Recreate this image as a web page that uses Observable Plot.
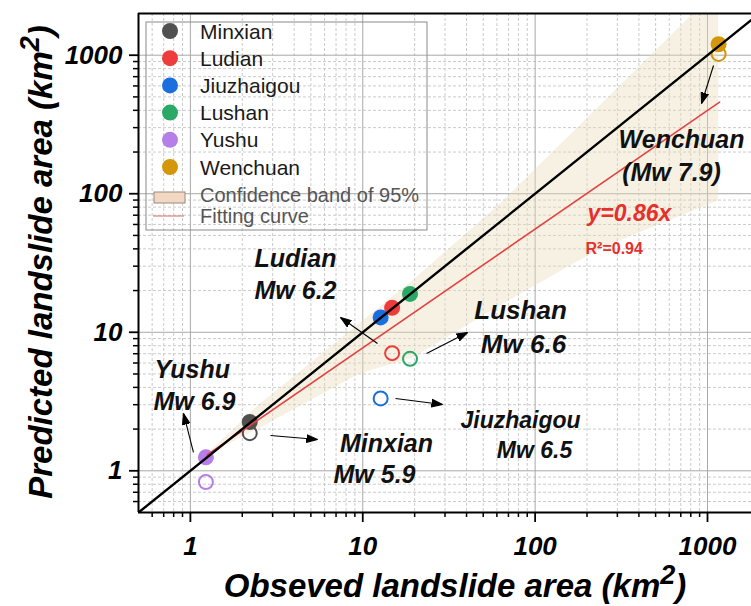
<!DOCTYPE html>
<html><head><meta charset="utf-8">
<script src="https://cdn.jsdelivr.net/npm/d3@7"></script>
<script src="https://cdn.jsdelivr.net/npm/@observablehq/plot@0.6"></script>
<style>
html,body{margin:0;padding:0;background:#fff;overflow:hidden;}
</style></head><body><div id="chart"></div>
<script>
// ---------- data ----------
const events = ["Minxian","Ludian","Jiuzhaigou","Lushan","Yushu","Wenchuan"];
const colors = ["#505050","#ee3b3b","#1a6ee0","#2aa866","#b57ee8","#d4960a"];
const observedArea  = [2.21, 14.8, 12.7, 18.8, 1.23, 1160];
const filledArea    = [2.25, 15.0, 12.8, 18.9, 1.25, 1200];
const predictedArea = [1.87, 7.07, 3.33, 6.43, 0.83, 1021];

const lineX = [0.5, 2000];
const lineY = [0.5, 2000];
const fitX = [1.25, 1175];
const fitY = [1.30, 458];
const bandX    = [1.25, 2.4, 9.6, 19.5, 62.6, 240, 1160];
const bandLow  = [1.30, 1.95, 5.0, 6.5, 15.5, 40, 89];
const bandHigh = [1.30, 2.85, 11.5, 23.5, 84, 435, 3000];

const majorTicks = [1, 10, 100, 1000];
const tickLabels = ["1", "10", "100", "1000"];

const noteText   = ["Ludian","Mw 6.2","Lushan","Mw 6.6","Jiuzhaigou","Mw 6.5","Minxian","Mw 5.9","Yushu","Mw 6.9","Wenchuan","(Mw 7.9)","y=0.86x","R²=0.94"];
const noteX      = [2.355, 2.355, 82.3, 85.6, 82.3, 99.2, 13.73, 11.70, 0.619, 0.611, 707.3, 618.5, 201.4, 196.1];
const noteY      = [29.35, 17.25, 12.57, 7.03, 2.02, 1.247, 1.356, 0.823, 4.64, 2.725, 212.1, 124.6, 63.05, 37.03];
const noteAnchor = ["start","start","middle","middle","middle","middle","middle","middle","start","start","middle","middle","start","start"];
const noteSize   = [25, 25, 26, 26, 23, 23, 25, 25, 25, 25, 25, 25, 23, 16];
const noteColor  = ["#111","#111","#111","#111","#111","#111","#111","#111","#111","#111","#111","#111","#e5302b","#e5302b"];
const noteItalic = [true,true,true,true,true,true,true,true,true,true,true,true,true,false];

// arrows: Ludian, Lushan, Jiuzhaigou, Minxian, Yushu, Wenchuan
const arrowX1 = [12.18, 23.44, 15.49, 2.916, 1.042, 1084];
const arrowY1 = [8.30, 7.03, 3.326, 1.798, 1.356, 842.7];
const arrowX2 = [7.43, 40.53, 29.02, 5.464, 0.912, 923.6];
const arrowY2 = [12.79, 9.96, 3.01, 1.682, 2.593, 448];

const legendLabels = [...events, "Confidence band of 95%", "Fitting curve"];
const xTitle = ["Obseved landslide area (km", "2", ")"];
const yTitle = ["Predicted landslide area (km", "2", ")"];

// ---------- derived tables ----------
const FONT = "'Liberation Sans', Arial, sans-serif";
const pts = events.map((e, i) => ({e, c: colors[i], x: observedArea[i], yf: filledArea[i], yp: predictedArea[i]}));
const band = bandX.map((x, i) => ({x, lo: bandLow[i], hi: bandHigh[i]}));
const arrows = arrowX1.map((x1, i) => ({x1, y1: arrowY1[i], x2: arrowX2[i], y2: arrowY2[i]}));
const notes = noteText.map((t, i) => ({t, x: noteX[i], y: noteY[i], a: noteAnchor[i], s: noteSize[i], c: noteColor[i], it: noteItalic[i]}));

const xDomain = [0.5, 1800], yDomain = [0.5, 2000];
const minorOf = (dom) => d3.scaleLog().domain(dom).ticks().filter(v => !majorTicks.includes(v) && v > dom[0] && v < dom[1]);
const xMinor = minorOf(xDomain), yMinor = minorOf(yDomain);
const fmt = d => tickLabels[majorTicks.indexOf(d)];

function filledArrow(color) {
  const ns = "http://www.w3.org/2000/svg";
  const m = document.createElementNS(ns, "marker");
  m.setAttribute("viewBox", "-11 -5 12 10");
  m.setAttribute("markerWidth", 12);
  m.setAttribute("markerHeight", 10);
  m.setAttribute("markerUnits", "userSpaceOnUse");
  m.setAttribute("orient", "auto");
  const p = document.createElementNS(ns, "path");
  p.setAttribute("d", "M-11,-3.8L0,0L-11,3.8Z");
  p.setAttribute("fill", "black");
  m.appendChild(p);
  return m;
}

function build(marker) {
  return Plot.plot({
    width: 751, height: 606,
    marginLeft: 138, marginRight: 0, marginTop: 13, marginBottom: 94,
    style: {fontFamily: FONT, background: "white", overflow: "hidden"},
    x: {type: "log", domain: xDomain, label: null},
    y: {type: "log", domain: yDomain, label: null},
    marks: [
      Plot.gridX(xMinor, {stroke: "#cbcbcb", strokeOpacity: 1, strokeDasharray: "3,2"}),
      Plot.gridY(yMinor, {stroke: "#cbcbcb", strokeOpacity: 1, strokeDasharray: "3,2"}),
      Plot.gridX(majorTicks, {stroke: "#a8a8a8", strokeOpacity: 1}),
      Plot.gridY(majorTicks, {stroke: "#a8a8a8", strokeOpacity: 1}),
      Plot.areaY(band, {x: "x", y1: "lo", y2: "hi", fill: "#e8dcb8", fillOpacity: 0.4, clip: true}),
      Plot.axisX(xMinor, {tickSize: 5, tickFormat: () => "", stroke: "black", strokeWidth: 1.5, label: null}),
      Plot.axisY(yMinor, {tickSize: 5, tickFormat: () => "", stroke: "black", strokeWidth: 1.5, label: null}),
      Plot.axisX(majorTicks, {tickSize: 10, tickPadding: 14, tickFormat: fmt, stroke: "black", strokeWidth: 1.8,
        fontSize: 26, fontWeight: "bold", fontStyle: "italic", fill: "black", label: null}),
      Plot.axisY(majorTicks, {tickSize: 9, tickPadding: 7, tickFormat: fmt, stroke: "black", strokeWidth: 1.8,
        fontSize: 26, fontWeight: "bold", fontStyle: "italic", fill: "black", label: null}),
      Plot.ruleX([xDomain[0]], {stroke: "black", strokeWidth: 2}),
      Plot.ruleY([yDomain[0]], {stroke: "black", strokeWidth: 2}),
      Plot.ruleY([yDomain[1]], {stroke: "black", strokeWidth: 2}),
      Plot.dot(pts, {x: "x", y: "yp", r: 7, stroke: "c", strokeWidth: 2, fill: "none"}),
      Plot.dot(pts, {x: "x", y: "yf", r: 8, fill: "c", stroke: "none"}),
      Plot.line(fitX.map((x, i) => [x, fitY[i]]), {stroke: "#e04545", strokeWidth: 1.6, clip: true}),
      Plot.line(lineX.map((x, i) => [x, lineY[i]]), {stroke: "black", strokeWidth: 2.4, clip: true}),
      Plot.link(arrows, {x1: "x1", y1: "y1", x2: "x2", y2: "y2", stroke: "black", strokeWidth: 1.1, markerEnd: marker}),
      ...notes.map(n => Plot.text([n], {x: "x", y: "y", text: "t", textAnchor: n.a, lineAnchor: "bottom",
        fontSize: n.s, fontWeight: "bold", fontStyle: n.it ? "italic" : "normal", fill: n.c}))
    ]
  });
}

let plot;
try { plot = build(filledArrow); } catch (e) { console.log(e); plot = build("arrow"); }
document.getElementById("chart").appendChild(plot);

const svg = d3.select(plot);

// axis titles
function title(parts, transform) {
  const t = svg.append("text").attr("transform", transform).attr("text-anchor", "middle")
    .attr("font-family", FONT).attr("font-weight", "bold").attr("font-style", "italic")
    .attr("font-size", 33).attr("fill", "black");
  t.append("tspan").text(parts[0]);
  t.append("tspan").attr("dy", -13).attr("font-size", 27).text(parts[1]);
  t.append("tspan").attr("dy", 13).text(parts[2]);
}
title(xTitle, "translate(455,597)");
title(yTitle, "translate(52,262) rotate(-90)");

// legend
const lg = svg.append("g").attr("font-family", FONT).attr("text-anchor", "start");
lg.append("rect").attr("x", 146).attr("y", 22).attr("width", 281).attr("height", 208)
  .attr("fill", "none").attr("stroke", "#8a8a8a").attr("stroke-width", 1);
events.forEach((e, i) => {
  const cy = 31 + i * 27.2;
  lg.append("circle").attr("cx", 170).attr("cy", cy).attr("r", 8).attr("fill", colors[i]);
  lg.append("text").attr("x", 200).attr("y", cy + 7.5).attr("text-anchor", "start")
    .attr("font-size", 21).attr("fill", "#1a1a1a").text(legendLabels[i]);
});
lg.append("rect").attr("x", 154).attr("y", 192).attr("width", 31).attr("height", 11)
  .attr("fill", "#f2d8c2").attr("stroke", "#9a8a7a").attr("stroke-width", 1);
lg.append("text").attr("x", 200).attr("y", 202).attr("text-anchor", "start")
  .attr("font-size", 20).attr("fill", "#555").text(legendLabels[6]);
lg.append("line").attr("x1", 153).attr("x2", 184).attr("y1", 216).attr("y2", 216)
  .attr("stroke", "#e08080").attr("stroke-width", 1.2);
lg.append("text").attr("x", 200).attr("y", 223).attr("text-anchor", "start")
  .attr("font-size", 20).attr("fill", "#555").text(legendLabels[7]);
</script>
</body></html>
